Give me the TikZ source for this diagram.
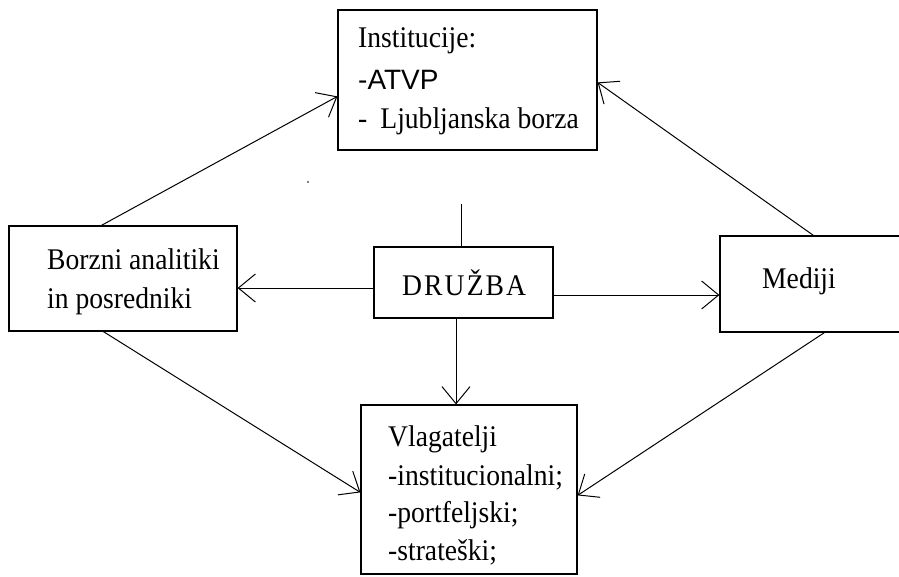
\documentclass[tikz,border=0pt]{standalone}
\usepackage{fontspec}
\setmainfont{Liberation Serif}[FakeStretch=0.92]
\newfontfamily\sansf{Liberation Sans}
\newfontfamily\spacedf{Liberation Serif}[FakeStretch=0.92,LetterSpace=7]
\usetikzlibrary{arrows.meta,calc}
\begin{document}
\begin{tikzpicture}[x=1pt,y=-1pt,
  box/.style={draw,line width=1.2pt,minimum width=#1,inner sep=0pt},
  txt/.style={anchor=base west,inner sep=0pt,font=\fontsize{30}{36}\selectfont},
  arr/.style={-{Straight Barb[length=17pt,width=28pt]},line width=1pt},
  conn/.style={line width=1pt}]
\useasboundingbox (0,0) rectangle (899,576);
\clip (0,0) rectangle (899,576);
% boxes
\node[box=259pt,minimum height=140pt] (inst) at (467.5,80) {};
\node[box=179pt,minimum height=71pt] (druz) at (463.5,282.5) {};
\node[box=228pt,minimum height=105pt] (borz) at (123,278.5) {};
\node[box=185pt,minimum height=96pt] (med) at (812.5,284) {};
\node[box=216pt,minimum height=169pt] (vlag) at (469,489.5) {};
% texts
\node[txt] (i1) at (358,47) {Institucije:};
\node[txt,font=\sansf\fontsize{28}{34}\selectfont] (i2) at (358,89) {-ATVP};
\node[txt] (i3) at (358,128) {-\hspace{13pt}Ljubljanska borza};
\node[txt,font=\spacedf\fontsize{30}{36}\selectfont] (d1) at (402,295) {DRUŽBA};
\node[txt] (b1) at (47,269) {Borzni analitiki};
\node[txt] (b2) at (47,308) {in posredniki};
\node[txt] (m1) at (762,288) {Mediji};
\node[txt] (v1) at (388,446) {Vlagatelji};
\node[txt] (v2) at (388,485) {-institucionalni;};
\node[txt] (v3) at (388,522) {-portfeljski;};
\node[txt] (v4) at (388,560) {-strateški;};
% stray dot
\fill (308,182) circle (0.9pt);
% connectors
\coordinate (stub) at (461,204);
\draw[conn] (stub) -- (stub |- druz.north);
\draw[arr] ([yshift=-5.5pt]druz.west) -- ([yshift=-5.5pt]druz.west -| borz.east);
\draw[arr] ([yshift=-12.5pt]druz.east) -- ([yshift=-12.5pt]druz.east -| med.west);
\draw[arr] ([xshift=-7.5pt]druz.south) -- ([xshift=-7.5pt]druz.south |- vlag.north);
\draw[arr] ([xshift=93pt]borz.north west) -- ([yshift=-87pt]inst.north west);
\draw[arr] ([xshift=95pt]borz.south west) -- ([yshift=-88pt]vlag.north west);
\draw[arr] ([xshift=94pt]med.north west) -- ([yshift=-73pt]inst.north east);
\draw[arr] ([xshift=105pt]med.south west) -- ([yshift=-91pt]vlag.north east);
\end{tikzpicture}
\end{document}
